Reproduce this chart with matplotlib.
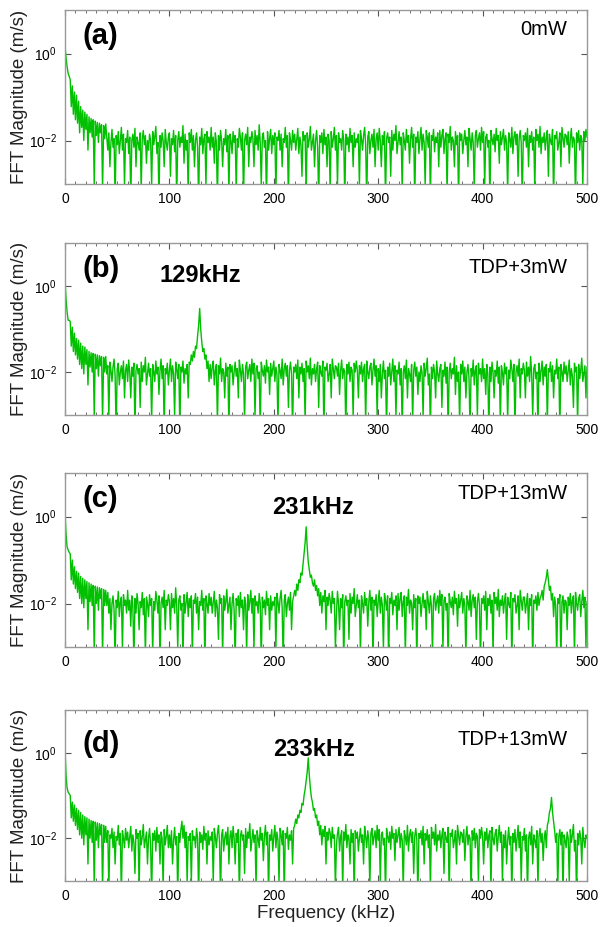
import numpy as np
import matplotlib
matplotlib.use("Agg")
import matplotlib.pyplot as plt
from matplotlib.ticker import MultipleLocator, FixedLocator, LogFormatterSciNotation, NullLocator

plt.rcParams['font.family'] = ['Liberation Sans', 'DejaVu Sans']
plt.rcParams['mathtext.default'] = 'regular'

# FFT magnitude in units of 1e-4 m/s, one value per 1 kHz from 0 to 500 kHz
mag_a = [
    15000, 8000, 5000, 3500, 3000, 2500, 600, 1800, 400, 1300, 300, 1100, 250, 800, 150, 600, 200, 500, 100, 450,
    180, 400, 60, 350, 150, 320, 120, 300, 9, 280, 130, 260, 90, 250, 150, 230, 7, 220, 110, 240,
    120, 60, 150, 25, 90, 180, 70, 110, 4, 130, 80, 160, 50, 100, 200, 60, 140, 9, 110, 90,
    170, 50, 120, 4, 100, 140, 70, 190, 25, 120, 90, 60, 150, 7, 110, 170, 80, 130, 30, 100,
    60, 140, 100, 9, 160, 80, 120, 210, 50, 90, 4, 130, 70, 150, 100, 25, 180, 90, 60, 120,
    150, 15, 110, 80, 170, 55, 130, 4, 100, 160, 70, 120, 90, 220, 30, 140, 60, 100, 6, 150,
    90, 180, 60, 130, 25, 100, 150, 70, 4, 120, 80, 190, 50, 110, 140, 9, 160, 90, 120, 60,
    200, 70, 120, 30, 150, 90, 4, 130, 60, 170, 100, 25, 110, 80, 180, 55, 130, 6, 140, 100,
    50, 160, 90, 130, 7, 110, 70, 190, 120, 60, 150, 4, 100, 140, 80, 200, 25, 120, 90, 160,
    110, 25, 170, 80, 130, 60, 230, 90, 9, 120, 150, 70, 100, 4, 160, 60, 110, 180, 50, 130,
    80, 150, 6, 120, 100, 170, 60, 140, 25, 110, 90, 200, 70, 130, 4, 150, 100, 60, 170, 90,
    140, 60, 110, 190, 50, 120, 80, 15, 160, 100, 130, 6, 150, 70, 110, 210, 60, 90, 140, 25,
    100, 170, 70, 4, 130, 90, 150, 50, 180, 80, 120, 25, 140, 100, 7, 160, 70, 110, 200, 60,
    130, 9, 150, 90, 110, 60, 170, 100, 4, 140, 80, 120, 55, 190, 90, 130, 25, 150, 70, 110,
    90, 140, 9, 170, 110, 60, 130, 200, 80, 4, 120, 160, 50, 100, 140, 70, 180, 25, 110, 150,
    60, 190, 100, 25, 130, 80, 160, 4, 110, 150, 90, 120, 15, 170, 60, 140, 100, 220, 50, 90,
    160, 80, 120, 7, 150, 100, 60, 180, 90, 130, 30, 110, 200, 70, 140, 4, 120, 90, 160, 50,
    110, 200, 60, 140, 90, 9, 170, 120, 70, 150, 4, 130, 100, 180, 55, 120, 90, 150, 25, 170,
    70, 130, 180, 50, 110, 150, 6, 140, 90, 210, 60, 120, 100, 25, 160, 80, 130, 4, 150, 100,
    140, 50, 100, 170, 80, 120, 25, 190, 110, 60, 150, 90, 7, 130, 170, 70, 110, 150, 60, 200,
    90, 160, 9, 120, 140, 70, 100, 4, 170, 110, 80, 140, 55, 190, 100, 130, 30, 160, 80, 120,
    180, 60, 130, 90, 6, 150, 110, 70, 200, 50, 120, 160, 80, 140, 15, 110, 170, 90, 4, 130,
    100, 150, 70, 190, 25, 130, 90, 160, 60, 120, 7, 180, 100, 140, 70, 210, 50, 120, 90, 150,
    60, 120, 170, 15, 140, 100, 80, 180, 4, 130, 110, 160, 60, 90, 150, 25, 200, 120, 70, 140,
    130, 80, 160, 30, 110, 190, 70, 120, 100, 4, 150, 90, 170, 60, 130, 110, 9, 160, 100, 180,
    120]

mag_b = [
    14000, 5000, 2500, 1600, 1600, 1500, 400, 1100, 300, 800, 250, 600, 200, 550, 150, 470, 120, 400, 90, 380,
    150, 330, 50, 300, 130, 280, 100, 270, 9, 260, 120, 250, 80, 240, 140, 230, 7, 220, 100, 230,
    90, 140, 9, 170, 110, 60, 130, 200, 80, 4, 120, 160, 50, 100, 140, 70, 180, 25, 110, 150,
    60, 190, 100, 25, 130, 80, 160, 4, 110, 150, 90, 120, 15, 170, 60, 140, 100, 220, 50, 90,
    160, 80, 120, 7, 150, 100, 60, 180, 90, 130, 30, 110, 200, 70, 140, 4, 120, 90, 160, 50,
    110, 200, 60, 140, 90, 9, 170, 120, 70, 150, 4, 130, 100, 180, 55, 120, 90, 150, 25, 170,
    150, 250, 180, 300, 220, 400, 350, 700, 1200, 3000, 1000, 500, 300, 350, 200, 250, 120, 180, 60, 150,
    70, 130, 180, 50, 110, 150, 6, 140, 90, 210, 60, 120, 100, 25, 160, 80, 130, 4, 150, 100,
    140, 50, 100, 170, 80, 120, 25, 190, 110, 60, 150, 90, 7, 130, 170, 70, 110, 150, 60, 200,
    90, 160, 9, 120, 140, 70, 100, 4, 170, 110, 80, 140, 55, 190, 100, 130, 30, 160, 80, 120,
    180, 60, 130, 90, 6, 150, 110, 70, 200, 50, 120, 160, 80, 140, 15, 110, 170, 90, 4, 130,
    100, 150, 70, 190, 25, 130, 90, 160, 60, 120, 7, 180, 100, 140, 70, 210, 50, 120, 90, 150,
    60, 120, 170, 15, 140, 100, 80, 180, 4, 130, 110, 160, 60, 90, 150, 25, 200, 120, 70, 140,
    130, 80, 160, 30, 110, 190, 70, 120, 100, 4, 150, 90, 170, 60, 130, 110, 9, 160, 100, 180,
    110, 25, 140, 90, 170, 60, 120, 150, 6, 180, 100, 70, 130, 160, 50, 110, 200, 80, 140, 9,
    120, 60, 150, 25, 90, 180, 70, 110, 4, 130, 80, 160, 50, 100, 200, 60, 140, 9, 110, 90,
    170, 50, 120, 4, 100, 140, 70, 190, 25, 120, 90, 60, 150, 7, 110, 170, 80, 130, 30, 100,
    60, 140, 100, 9, 160, 80, 120, 210, 50, 90, 4, 130, 70, 150, 100, 25, 180, 90, 60, 120,
    150, 15, 110, 80, 170, 55, 130, 4, 100, 160, 70, 120, 90, 220, 30, 140, 60, 100, 6, 150,
    90, 180, 60, 130, 25, 100, 150, 70, 4, 120, 80, 190, 50, 110, 140, 9, 160, 90, 120, 60,
    200, 70, 120, 30, 150, 90, 4, 130, 60, 170, 100, 25, 110, 80, 180, 55, 130, 6, 140, 100,
    50, 160, 90, 130, 7, 110, 70, 190, 120, 60, 150, 4, 100, 140, 80, 200, 25, 120, 90, 160,
    110, 25, 170, 80, 130, 60, 230, 90, 9, 120, 150, 70, 100, 4, 160, 60, 110, 180, 50, 130,
    80, 150, 6, 120, 100, 170, 60, 140, 25, 110, 90, 200, 70, 130, 4, 150, 100, 60, 170, 90,
    140, 60, 110, 190, 50, 120, 80, 15, 160, 100, 130, 6, 150, 70, 110, 210, 60, 90, 140, 25,
    130]

mag_c = [
    13000, 4000, 2000, 1700, 1500, 1400, 350, 1000, 280, 700, 220, 550, 180, 500, 130, 420, 100, 380, 80, 350,
    130, 320, 25, 300, 110, 280, 90, 260, 7, 250, 100, 240, 70, 230, 130, 220, 6, 210, 90, 200,
    90, 180, 60, 130, 25, 100, 150, 70, 4, 120, 80, 190, 50, 110, 140, 9, 160, 90, 120, 60,
    200, 70, 120, 30, 150, 90, 4, 130, 60, 170, 100, 25, 110, 80, 180, 55, 130, 6, 140, 100,
    50, 160, 90, 130, 7, 110, 70, 190, 120, 60, 150, 4, 100, 140, 80, 200, 25, 120, 90, 160,
    110, 25, 170, 80, 130, 60, 230, 90, 9, 120, 150, 70, 100, 4, 160, 60, 110, 180, 50, 130,
    80, 150, 6, 120, 100, 170, 60, 140, 25, 110, 90, 200, 70, 130, 4, 150, 100, 60, 170, 90,
    140, 60, 110, 190, 50, 120, 80, 15, 160, 100, 130, 6, 150, 70, 110, 210, 60, 90, 140, 25,
    100, 170, 70, 4, 130, 90, 150, 50, 180, 80, 120, 25, 140, 100, 7, 160, 70, 110, 200, 60,
    130, 9, 150, 90, 110, 60, 170, 100, 4, 140, 80, 120, 55, 190, 90, 130, 25, 150, 70, 110,
    90, 140, 9, 170, 110, 60, 130, 200, 80, 4, 120, 160, 50, 100, 140, 70, 180, 25, 110, 150,
    200, 150, 280, 200, 350, 300, 500, 450, 800, 1500, 2500, 5800, 2000, 900, 600, 400, 450, 300, 250, 350,
    200, 260, 150, 220, 90, 180, 60, 150, 110, 200, 25, 140, 90, 170, 120, 60, 190, 100, 130, 9,
    60, 190, 100, 25, 130, 80, 160, 4, 110, 150, 90, 120, 15, 170, 60, 140, 100, 220, 50, 90,
    160, 80, 120, 7, 150, 100, 60, 180, 90, 130, 30, 110, 200, 70, 140, 4, 120, 90, 160, 50,
    110, 200, 60, 140, 90, 9, 170, 120, 70, 150, 4, 130, 100, 180, 55, 120, 90, 150, 25, 170,
    70, 130, 180, 50, 110, 150, 6, 140, 90, 210, 60, 120, 100, 25, 160, 80, 130, 4, 150, 100,
    140, 50, 100, 170, 80, 120, 25, 190, 110, 60, 150, 90, 7, 130, 170, 70, 110, 150, 60, 200,
    90, 160, 9, 120, 140, 70, 100, 4, 170, 110, 80, 140, 55, 190, 100, 130, 30, 160, 80, 120,
    180, 60, 130, 90, 6, 150, 110, 70, 200, 50, 120, 160, 80, 140, 15, 110, 170, 90, 4, 130,
    100, 150, 70, 190, 25, 130, 90, 160, 60, 120, 7, 180, 100, 140, 70, 210, 50, 120, 90, 150,
    60, 120, 170, 15, 140, 100, 80, 180, 4, 130, 110, 160, 60, 90, 150, 25, 200, 120, 70, 140,
    140, 60, 100, 170, 25, 130, 90, 160, 4, 120, 100, 150, 70, 180, 90, 130, 150, 200, 120, 250,
    300, 400, 600, 350, 200, 250, 120, 170, 50, 140, 90, 6, 130, 100, 160, 4, 110, 150, 60, 120,
    110, 25, 140, 90, 170, 60, 120, 150, 6, 180, 100, 70, 130, 160, 50, 110, 200, 80, 140, 9,
    110]

mag_d = [
    13000, 3000, 1500, 1200, 1100, 1000, 300, 700, 250, 600, 200, 500, 160, 450, 120, 400, 100, 350, 70, 320,
    120, 300, 25, 280, 100, 260, 80, 250, 7, 240, 90, 230, 60, 220, 120, 210, 6, 200, 80, 190,
    80, 150, 6, 120, 100, 170, 60, 140, 25, 110, 90, 200, 70, 130, 4, 150, 100, 60, 170, 90,
    140, 60, 110, 190, 50, 120, 80, 15, 160, 100, 130, 6, 150, 70, 110, 210, 60, 90, 140, 25,
    100, 170, 70, 4, 130, 90, 150, 50, 180, 80, 120, 25, 140, 100, 7, 160, 70, 110, 200, 60,
    120, 60, 150, 25, 90, 180, 70, 110, 4, 130, 80, 160, 250, 100, 200, 60, 140, 9, 110, 90,
    130, 9, 150, 90, 110, 60, 170, 100, 4, 140, 80, 120, 55, 190, 90, 130, 25, 150, 70, 110,
    90, 140, 9, 170, 110, 60, 130, 200, 80, 4, 120, 160, 50, 100, 140, 70, 180, 25, 110, 150,
    60, 190, 100, 25, 130, 80, 160, 4, 110, 150, 90, 120, 15, 170, 60, 140, 100, 220, 50, 90,
    160, 80, 120, 7, 150, 100, 60, 180, 90, 130, 30, 110, 200, 70, 140, 4, 120, 90, 160, 50,
    110, 200, 60, 140, 90, 9, 170, 120, 70, 150, 4, 130, 100, 180, 55, 120, 90, 150, 25, 170,
    200, 280, 220, 350, 300, 450, 400, 650, 600, 1000, 1400, 2200, 3500, 7600, 3000, 1500, 900, 700, 450, 500,
    300, 350, 200, 250, 120, 200, 70, 160, 110, 190, 25, 140, 90, 170, 130, 60, 180, 100, 120, 7,
    70, 130, 180, 50, 110, 150, 6, 140, 90, 210, 60, 120, 100, 25, 160, 80, 130, 4, 150, 100,
    140, 50, 100, 170, 80, 120, 25, 190, 110, 60, 150, 90, 7, 130, 170, 70, 110, 150, 60, 200,
    90, 160, 9, 120, 140, 70, 100, 4, 170, 110, 80, 140, 55, 190, 100, 130, 30, 160, 80, 120,
    180, 60, 130, 90, 6, 150, 110, 70, 200, 50, 120, 160, 80, 140, 15, 110, 170, 90, 4, 130,
    100, 150, 70, 190, 25, 130, 90, 160, 60, 120, 7, 180, 100, 140, 70, 210, 50, 120, 90, 150,
    60, 120, 170, 15, 140, 100, 80, 180, 4, 130, 110, 160, 60, 90, 150, 25, 200, 120, 70, 140,
    130, 80, 160, 30, 110, 190, 70, 120, 100, 4, 150, 90, 170, 60, 130, 110, 9, 160, 100, 180,
    110, 25, 140, 90, 170, 60, 120, 150, 6, 180, 100, 70, 130, 160, 50, 110, 200, 80, 140, 9,
    120, 60, 150, 25, 90, 180, 70, 110, 4, 130, 80, 160, 50, 100, 200, 60, 140, 9, 110, 90,
    170, 50, 120, 4, 100, 140, 70, 190, 25, 120, 90, 60, 150, 7, 110, 170, 80, 130, 30, 100,
    150, 60, 200, 250, 400, 500, 900, 400, 250, 150, 80, 130, 6, 110, 160, 70, 140, 4, 120, 90,
    60, 140, 100, 9, 160, 80, 120, 210, 50, 90, 4, 130, 70, 150, 100, 25, 180, 90, 60, 120,
    100]

series = [mag_a, mag_b, mag_c, mag_d]
panel_tags = ['(a)', '(b)', '(c)', '(d)']
power_labels = ['0mW', 'TDP+3mW', 'TDP+13mW', 'TDP+13mW']
peak_labels = [None, '129kHz', '231kHz', '233kHz']
x_ticks = [0, 100, 200, 300, 400, 500]

unit = 1e-4
step_khz = 1

W, H = 603, 927
fig = plt.figure(figsize=(W / 100, H / 100), dpi=100)

# axes boxes in pixels: (left, top, right, bottom)
boxes = [(65, 10, 587, 184), (65, 243, 587, 415), (65, 473, 587, 647), (65, 710, 587, 881)]
tag_y = [0.85, 0.85, 0.85, 0.80]
peak_pos = [None, (0.26, 0.81), (0.475, 0.80), (0.477, 0.77)]
power_y = [0.89, 0.855, 0.88, 0.825]

green = '#00c000'
for i, (vals, box) in enumerate(zip(series, boxes)):
    l, t, r, b = box
    ax = fig.add_axes([l / W, 1 - b / H, (r - l) / W, (b - t) / H])
    y = np.array(vals, dtype=float) * unit
    f = np.arange(len(y)) * step_khz
    ax.plot(f, y, color=green, lw=1.0)
    ax.set_yscale('log')
    ax.set_xlim(0, 500)
    ax.set_ylim(1e-3, 1e1)
    ax.yaxis.set_major_locator(FixedLocator([1e-2, 1e0]))
    ax.yaxis.set_minor_locator(NullLocator())
    ax.yaxis.set_major_formatter(LogFormatterSciNotation())
    ax.xaxis.set_major_locator(FixedLocator(x_ticks))
    ax.xaxis.set_minor_locator(MultipleLocator(10))
    ax.tick_params(which='both', direction='in', top=True, right=True, colors='#555555',
                   labelcolor='black', labelsize=10)
    ax.tick_params(which='major', length=4, width=0.8)
    ax.tick_params(which='minor', length=2, width=0.6)
    ax.tick_params(axis='x', pad=6)
    ax.tick_params(axis='y', pad=6)
    for s in ax.spines.values():
        s.set_color('#999999')
        s.set_linewidth(1.0)
    ax.set_ylabel('FFT Magnitude (m/s)', fontsize=13.5, color='#222222')
    ax.yaxis.set_label_coords(-0.07, 0.5)
    ax.text(0.033, tag_y[i], panel_tags[i], transform=ax.transAxes, fontsize=21,
            fontweight='bold', ha='left', va='center')
    ax.text(0.962, power_y[i], power_labels[i], transform=ax.transAxes, fontsize=14.5,
            ha='right', va='center')
    if peak_labels[i]:
        px, py = peak_pos[i]
        ax.text(px, py, peak_labels[i], transform=ax.transAxes, fontsize=17,
                fontweight='bold', ha='center', va='center')
    if i == 3:
        ax.set_xlabel('Frequency (kHz)', fontsize=13.5, labelpad=1, color='#222222')

fig.savefig('out.png', dpi=100)
